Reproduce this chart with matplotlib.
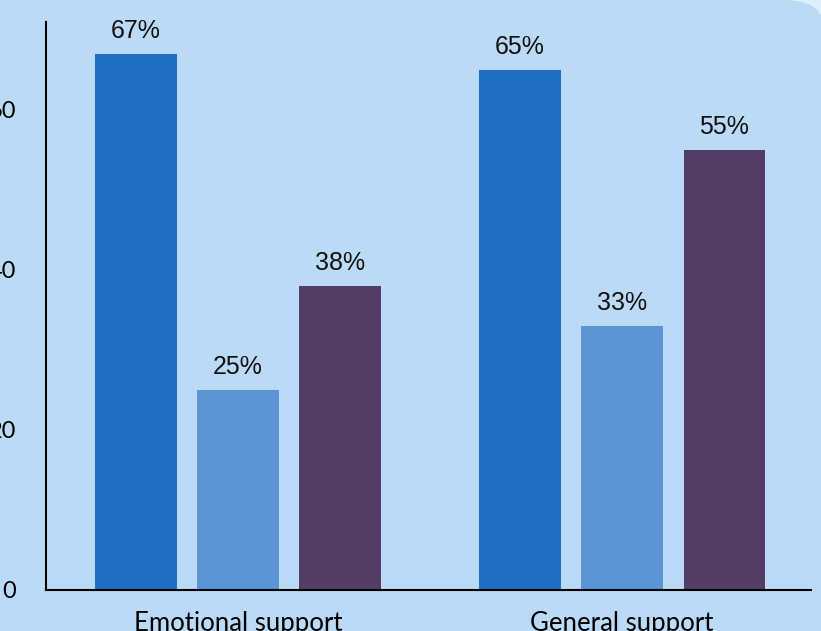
import numpy as np
import matplotlib.pyplot as plt
from matplotlib.patches import FancyBboxPatch

# data
groups = ["Emotional support", "General support"]
series_a = [67, 65]
series_b = [25, 33]
series_c = [38, 55]
kleuren = ["#216DC3", "#5B95D3", "#523E65"]
yticks = [0, 20, 40, 60]

fig = plt.figure(figsize=(8.21, 6.31), dpi=100)
fig.patch.set_facecolor("#DDEEFC")

# rounded panel (only the top right corner is visible in the crop)
panel = FancyBboxPatch((-0.2, -0.2), 1.205, 1.2,
                       boxstyle="round,pad=0,rounding_size=0.05",
                       transform=fig.transFigure, facecolor="#BBDAF5",
                       edgecolor="none", zorder=-5)
fig.patches.append(panel)

ax = fig.add_axes([46 / 821, 41 / 631, (811 - 46) / 821, (590 - 22) / 631])
ax.set_facecolor("none")
ax.set_zorder(2)

x = np.arange(len(groups))
sirina = 0.8 / 3 * 0.8
korak = 0.8 / 3
for i, vals in enumerate([series_a, series_b, series_c]):
    pos = x + (i - 1) * korak
    ax.bar(pos, vals, width=sirina, color=kleuren[i], zorder=2)
    for p, v in zip(pos, vals):
        ax.text(p, v + 1.4, f"{v}%", ha="center", va="bottom",
                fontsize=18, family="Liberation Sans", color="#111111")

ax.set_xlim(-0.5, 1.492)
ax.set_ylim(0, 71)
ax.set_yticks(yticks)
ax.set_yticklabels([str(t) for t in yticks], family="Lato", fontsize=17)
ax.set_xticks(x)
ax.set_xticklabels(groups, family="Lato", fontsize=18.5)
ax.tick_params(axis="y", length=0, pad=21.5)
ax.tick_params(axis="x", length=0, pad=15)
for s in ["top", "right"]:
    ax.spines[s].set_visible(False)
ax.spines["left"].set_linewidth(1.5)
ax.spines["bottom"].set_linewidth(1.5)

fig.savefig("out.png", dpi=100, facecolor=fig.get_facecolor())
